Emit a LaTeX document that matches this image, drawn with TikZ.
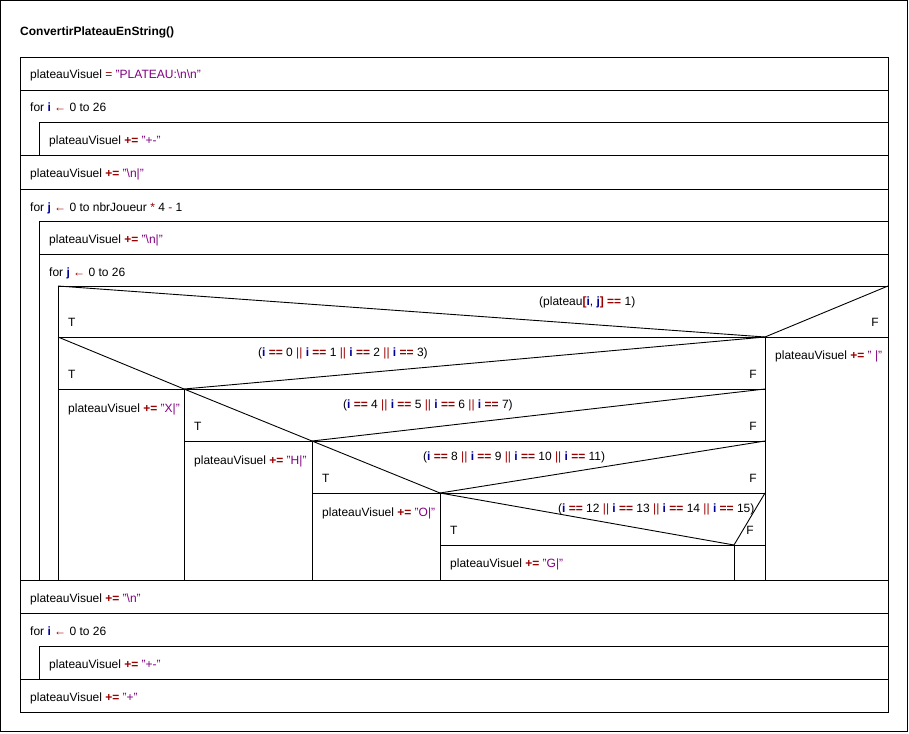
\documentclass[tikz,border=0pt]{standalone}
\usepackage{fontspec}
\setmainfont{Liberation Sans}
\definecolor{varblue}{RGB}{0,0,153}
\definecolor{opred}{RGB}{153,0,0}
\definecolor{strpurple}{RGB}{128,0,128}
\newcommand{\nsvar}[1]{\textcolor{varblue}{\textbf{#1}}}
\newcommand{\nsop}[1]{\textcolor{opred}{\textbf{#1}}}
\newcommand{\nsopn}[1]{\textcolor{opred}{#1}}
\newcommand{\nsstr}[1]{\textcolor{strpurple}{#1}}
\newcommand{\nsbs}{\textbackslash}
\newcommand{\pv}{plateauVisuel}
\tikzset{
  every node/.style={inner sep=0pt, font=\fontsize{12}{14}\selectfont},
  instr/.style={anchor=base west},
  tlabel/.style={anchor=base west},
  flabel/.style={anchor=base east},
  nsline/.style={line width=0.9pt},
}
\begin{document}
\begin{tikzpicture}[x=1pt, y=-1pt]
  \useasboundingbox (0,0) rectangle (909,733);
  \draw[nsline] (0.5,0.5) rectangle (907.5,731.5);
  \node[instr, font=\fontsize{12}{14}\selectfont\bfseries] (title) at (20,36) {ConvertirPlateauEnString()};

  % main blocks
  \draw[nsline] (20,57) rectangle (888,712);
  \foreach \y in {90,155,189,580,613,679}
    \draw[nsline] (20,\y) -- (888,\y);
  \draw[nsline] (39,122) rectangle (888,155);
  \draw[nsline] (39,646) rectangle (888,679);
  \draw[nsline] (888,221) -- (39,221) -- (39,580);
  \draw[nsline] (39,254) -- (888,254);
  \draw[nsline] (888,286) -- (58,286) -- (58,580);

  % alternatives
  \draw[nsline] (58,337) -- (888,337);
  \draw[nsline] (58,286) -- (765,337) -- (888,286);
  \draw[nsline] (765,337) -- (765,580);
  \foreach \l/\a/\t in {58/184/337, 184/312/389, 312/440/441, 440/734/493}
  {
    \draw[nsline] (\l,\t+52) -- (765,\t+52);
    \draw[nsline] (\l,\t) -- (\a,\t+52) -- (765,\t);
    \draw[nsline] (\a,\t+52) -- (\a,580);
  }

  % instructions
  \node[instr] (init) at (30,79) {\pv{} \nsopn{=} \nsstr{"PLATEAU:\nsbs n\nsbs n"}};
  \node[instr] (fori) at (30,112) {for \nsvar{i} \nsopn{←} 0 to 26};
  \node[instr] (addsep) at (49,144) {\pv{} \nsop{+=} \nsstr{"+-"}};
  \node[instr] (addnl) at (30,177) {\pv{} \nsop{+=} \nsstr{"\nsbs n|"}};
  \node[instr] (forj) at (30,211) {for \nsvar{j} \nsopn{←} 0 to nbrJoueur \nsopn{*} 4 \nsopn{-} 1};
  \node[instr] (addrow) at (49,243) {\pv{} \nsop{+=} \nsstr{"\nsbs n|"}};
  \node[instr] (forjj) at (49,276) {for \nsvar{j} \nsopn{←} 0 to 26};

  \node[instr] (cond1) at (539,305) {(plateau\nsop{[}\nsvar{i}, \nsvar{j}\nsop{]} \nsop{==} 1)};
  \node[instr] (cond2) at (258,356) {(\nsvar{i} \nsop{==} 0 \nsopn{||} \nsvar{i} \nsop{==} 1 \nsopn{||} \nsvar{i} \nsop{==} 2 \nsopn{||} \nsvar{i} \nsop{==} 3)};
  \node[instr] (cond3) at (343,408) {(\nsvar{i} \nsop{==} 4 \nsopn{||} \nsvar{i} \nsop{==} 5 \nsopn{||} \nsvar{i} \nsop{==} 6 \nsopn{||} \nsvar{i} \nsop{==} 7)};
  \node[instr] (cond4) at (423,460) {(\nsvar{i} \nsop{==} 8 \nsopn{||} \nsvar{i} \nsop{==} 9 \nsopn{||} \nsvar{i} \nsop{==} 10 \nsopn{||} \nsvar{i} \nsop{==} 11)};
  \node[instr] (cond5) at (558,512) {(\nsvar{i} \nsop{==} 12 \nsopn{||} \nsvar{i} \nsop{==} 13 \nsopn{||} \nsvar{i} \nsop{==} 14 \nsopn{||} \nsvar{i} \nsop{==} 15)};

  \node[tlabel] (t1) at (68,326) {T};
  \node[flabel] (f1) at (879,326) {F};
  \foreach \n/\l/\t in {2/58/337, 3/184/389, 4/312/441}
  {
    \node[tlabel] (t\n) at (\l+10,\t+41) {T};
    \node[flabel] (f\n) at (757,\t+41) {F};
  }
  \node[tlabel] (t5) at (450,534) {T};
  \node[flabel] (f5) at (754,534) {F};

  \node[instr] (addspace) at (775,359) {\pv{} \nsop{+=} \nsstr{"\ |"}};
  \node[instr] (addx) at (68,412) {\pv{} \nsop{+=} \nsstr{"X|"}};
  \node[instr] (addh) at (194,464) {\pv{} \nsop{+=} \nsstr{"H|"}};
  \node[instr] (addo) at (322,516) {\pv{} \nsop{+=} \nsstr{"O|"}};
  \node[instr] (addg) at (450,567) {\pv{} \nsop{+=} \nsstr{"G|"}};

  \node[instr] (addend) at (30,602) {\pv{} \nsop{+=} \nsstr{"\nsbs n"}};
  \node[instr] (forii) at (30,635) {for \nsvar{i} \nsopn{←} 0 to 26};
  \node[instr] (addsepb) at (49,668) {\pv{} \nsop{+=} \nsstr{"+-"}};
  \node[instr] (addplus) at (30,701) {\pv{} \nsop{+=} \nsstr{"+"}};
\end{tikzpicture}
\end{document}
